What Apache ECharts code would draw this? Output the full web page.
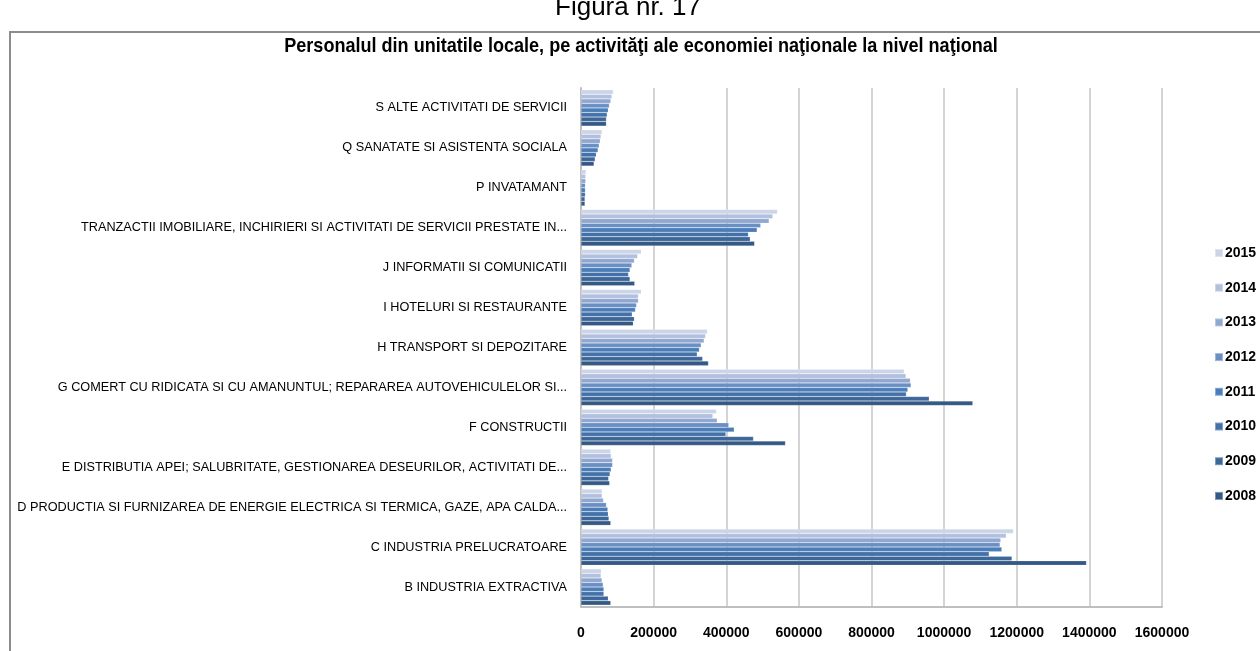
<!DOCTYPE html>
<html>
<head>
<meta charset="utf-8">
<script src="https://cdn.jsdelivr.net/npm/echarts@6/dist/echarts.min.js"></script>
<style>
	html, body { margin: 0; padding: 0; background: #fff; }
	#main { width: 1260px; height: 651px; }
</style>
</head>
<body>
<div id="main"></div>
<script>
// categories, bottom to top as on the axis
const categories = [
	'B INDUSTRIA EXTRACTIVA',
	'C INDUSTRIA PRELUCRATOARE',
	'D PRODUCTIA SI FURNIZAREA DE ENERGIE ELECTRICA SI TERMICA, GAZE, APA CALDA...',
	'E DISTRIBUTIA APEI; SALUBRITATE, GESTIONAREA DESEURILOR, ACTIVITATI DE...',
	'F CONSTRUCTII',
	'G COMERT CU RIDICATA SI CU AMANUNTUL; REPARAREA AUTOVEHICULELOR SI...',
	'H TRANSPORT SI DEPOZITARE',
	'I HOTELURI SI RESTAURANTE',
	'J INFORMATII SI COMUNICATII',
	'TRANZACTII IMOBILIARE, INCHIRIERI SI ACTIVITATI DE SERVICII PRESTATE IN...',
	'P INVATAMANT',
	'Q SANATATE SI ASISTENTA SOCIALA',
	'S ALTE ACTIVITATI DE SERVICII'
];

// legend / series order, top bar of each group first
const years = ['2015', '2014', '2013', '2012', '2011', '2010', '2009', '2008'];

const v2008 = [82000, 1392000, 82000, 79000, 563000, 1079000, 351000, 144000, 148000, 478000, 11000, 36000, 70000];
const v2009 = [75000, 1187000, 77000, 76000, 475000, 959000, 335000, 147000, 135000, 466000, 11000, 39000, 70000];
const v2010 = [63000, 1124000, 75000, 80000, 399000, 896000, 320000, 141000, 131000, 461000, 12000, 42000, 72000];
const v2011 = [63000, 1159000, 74000, 83000, 422000, 900000, 326000, 150000, 135000, 485000, 12000, 47000, 75000];
const v2012 = [61000, 1154000, 70000, 87000, 407000, 909000, 331000, 153000, 140000, 495000, 12000, 50000, 78000];
const v2013 = [58000, 1156000, 62000, 87000, 375000, 907000, 339000, 158000, 147000, 518000, 13000, 53000, 82000];
const v2014 = [55000, 1171000, 58000, 83000, 363000, 895000, 343000, 158000, 156000, 528000, 13000, 55000, 85000];
const v2015 = [56000, 1191000, 58000, 82000, 373000, 890000, 348000, 166000, 166000, 541000, 14000, 58000, 89000];

const seriesValues = [v2015, v2014, v2013, v2012, v2011, v2010, v2009, v2008];
const colors = ['#ccd5e8', '#b1c0de', '#91a7d0', '#6a8fc5', '#4b7db9', '#4371a8', '#3d6699', '#355985'];

const xTicks = [0, 200000, 400000, 600000, 800000, 1000000, 1200000, 1400000, 1600000];

const chart = echarts.init(document.getElementById('main'));

const series = years.map((y, i) => ({
	name: y,
	type: 'bar',
	data: seriesValues[i],
	barGap: '0%',
	barCategoryGap: '9%',
	itemStyle: {
		color: colors[i],
		borderColor: 'rgba(255,255,255,0.35)',
		borderWidth: 0.5
	},
	emphasis: { disabled: true }
}));

const font = '"Liberation Sans", Arial, sans-serif';

chart.setOption({
	animation: false,
	color: colors,
	graphic: [
		{
			type: 'text',
			x: 628,
			y: -5,
			style: {
				text: 'Figura nr. 17',
				textAlign: 'center',
				font: '26px ' + font,
				fill: '#000'
			}
		},
		{
			type: 'text',
			x: 641,
			y: 46,
			scaleX: 0.86,
			style: {
				text: 'Personalul din unitatile locale, pe activităţi ale economiei naţionale la nivel naţional',
				textAlign: 'center',
				textVerticalAlign: 'middle',
				font: 'bold 21px ' + font,
				fill: '#000'
			}
		},
		{
			type: 'rect',
			shape: { x: 10, y: 32, width: 1260, height: 640 },
			style: { fill: 'none', stroke: '#8c8c8c', lineWidth: 2 },
			z: -1
		}
	],
	legend: {
		data: years,
		orient: 'vertical',
		left: 1209,
		top: 241,
		itemWidth: 8,
		itemHeight: 8,
		itemGap: 20.7,
		icon: 'rect',
		textStyle: {
			fontFamily: font,
			fontSize: 14,
			fontWeight: 'bold',
			color: '#000',
			padding: [0, 0, 0, -3]
		}
	},
	grid: {
		left: 581,
		right: 98,
		top: 88,
		bottom: 44,
		containLabel: false
	},
	xAxis: {
		type: 'value',
		min: xTicks[0],
		max: xTicks[xTicks.length - 1],
		interval: xTicks[1] - xTicks[0],
		axisLine: { show: true, lineStyle: { color: '#bfbfbf', width: 2 } },
		axisTick: { show: false },
		splitLine: { show: true, lineStyle: { color: '#d4d4d4', width: 2 } },
		axisLabel: {
			margin: 19,
			fontFamily: font,
			fontSize: 14,
			fontWeight: 'bold',
			color: '#000',
			formatter: (v) => String(v)
		}
	},
	yAxis: {
		type: 'category',
		data: categories,
		axisLine: { show: true, lineStyle: { color: '#bfbfbf', width: 2 } },
		axisTick: { show: false },
		axisLabel: {
			margin: 14,
			fontFamily: font,
			fontSize: 12.7,
			color: '#000'
		}
	},
	series: series
});
</script>
</body>
</html>
